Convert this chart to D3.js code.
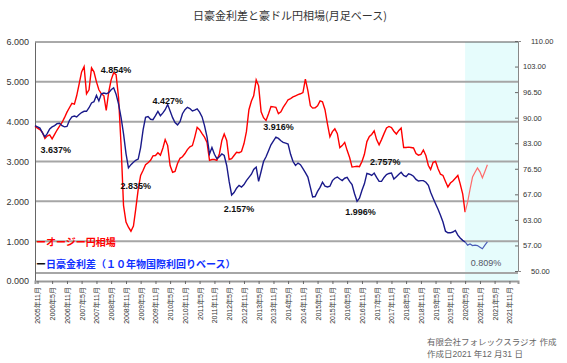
<!DOCTYPE html>
<html>
<head>
<meta charset="utf-8">
<script src="https://cdn.jsdelivr.net/npm/d3@7"></script>
<style>
  body { margin: 0; background: #fff; }
  svg { display: block; }
  text { font-family: "Liberation Sans", Arial, sans-serif; }
  .jp { font-family: "Noto Sans CJK JP", sans-serif; }
  .mix { font-family: "Liberation Sans", "Noto Sans CJK JP", sans-serif; }
</style>
</head>
<body>
<svg id="chart"></svg>
<script>
const width = 567;
const height = 363;

// monthly from 2005/10 to 2021/2
const months = d3.timeMonth.range(new Date(2005, 9, 1), new Date(2021, 2, 2));

// 日豪金利差 (%)
const spread = [
  3.90, 3.87, 3.84, 3.72, 3.62, 3.70, 3.82, 3.87, 3.90, 3.95, 3.96, 3.90, 3.87, 3.88, 4.03, 4.12,
  4.14, 4.12, 4.18, 4.23, 4.26, 4.26, 4.35, 4.47, 4.50, 4.66, 4.52, 4.70, 4.72, 4.70, 4.73, 4.80,
  4.85, 4.69, 4.44, 4.10, 3.70, 3.20, 2.84, 2.92, 2.98, 3.03, 3.06, 3.35, 3.80, 4.11, 4.13, 4.06,
  4.05, 4.15, 4.26, 4.15, 4.22, 4.30, 4.43, 4.27, 4.10, 3.98, 3.92, 4.00, 4.20, 4.30, 4.36, 4.33,
  4.27, 4.29, 4.32, 4.24, 4.12, 3.90, 3.62, 3.19, 3.35, 3.18, 3.07, 3.12, 3.19, 3.15, 2.90, 2.50,
  2.16, 2.22, 2.33, 2.40, 2.36, 2.42, 2.52, 2.60, 2.68, 2.80, 2.86, 2.50, 2.75, 3.00, 3.12, 3.27,
  3.42, 3.52, 3.61, 3.58, 3.52, 3.48, 3.46, 3.44, 3.18, 3.00, 2.90, 2.96, 2.92, 2.82, 2.72, 2.61,
  2.35, 2.11, 2.12, 2.25, 2.35, 2.48, 2.38, 2.36, 2.38, 2.52, 2.58, 2.61, 2.56, 2.52, 2.58, 2.60,
  2.50, 2.42, 2.19, 2.00, 2.08, 2.28, 2.44, 2.70, 2.68, 2.65, 2.71, 2.60, 2.50, 2.50, 2.60, 2.67,
  2.70, 2.71, 2.56, 2.62, 2.68, 2.73, 2.65, 2.62, 2.69, 2.67, 2.63, 2.55, 2.51, 2.52, 2.52, 2.48,
  2.40, 2.23, 2.08, 1.94, 1.80, 1.65, 1.48, 1.25, 1.21, 1.21, 1.23, 1.27, 1.15, 1.08, 1.02, 0.98,
  0.90, 0.93, 0.89, 0.90, 0.89, 0.85, 0.81, 0.90, 0.98
];

// 豪ドル円 (円)
const audjpy = [
  88.8, 88.4, 88.0, 87.3, 85.8, 86.4, 86.7, 85.7, 86.8, 87.9, 88.9, 89.8, 91.0, 92.4, 93.5, 94.6,
  94.4, 96.5, 99.5, 102.5, 103.8, 97.0, 98.0, 103.5, 102.5, 100.0, 98.0, 97.0, 96.5, 92.8, 97.5, 100.5,
  102.3, 101.8, 96.0, 84.0, 69.0, 64.8, 63.5, 62.5, 63.8, 68.0, 73.0, 76.5, 77.8, 79.2, 79.7, 80.3,
  81.4, 81.5, 82.2, 81.6, 83.4, 85.5, 84.0, 79.0, 77.3, 77.5, 79.5, 80.8, 81.2, 82.0, 83.0, 83.7,
  84.0, 86.0, 88.6, 88.0, 87.0, 86.1, 84.8, 80.3, 80.5, 80.5, 80.3, 81.9, 85.3, 86.9, 85.3, 80.5,
  80.7, 81.5, 82.3, 82.2, 82.5, 84.5, 87.5, 93.0, 95.2, 96.5, 100.5, 99.0, 92.5, 91.0, 90.3, 92.0,
  93.8, 93.7, 93.6, 92.0, 92.5, 93.6, 94.5, 95.5, 95.8, 96.2, 96.5, 96.8, 97.0, 97.3, 100.7, 97.8,
  94.0, 93.4, 93.5, 94.0, 95.2, 95.0, 93.0, 89.4, 86.2, 87.5, 88.2, 87.0, 83.5, 84.0, 84.8, 82.8,
  81.0, 78.6, 78.7, 78.8, 78.7, 80.0, 81.8, 85.0, 86.3, 86.8, 87.7, 85.5, 84.2, 85.5, 87.0, 88.4,
  88.8, 88.5, 87.6, 86.9, 87.8, 88.4, 83.5, 83.5, 83.6, 83.5, 83.4, 82.0, 81.6, 81.8, 82.9, 81.5,
  79.0, 78.0, 79.8, 80.0, 78.2, 76.8, 76.5, 75.0, 73.6, 74.6, 75.1, 75.8, 76.5, 74.4, 71.9, 67.3,
  69.8, 73.0, 76.1, 77.3, 78.4, 77.4, 75.9, 77.5, 79.2
];

const leftTicks = [0, 1, 2, 3, 4, 5, 6];
const gridValues = [0.2, 1, 2, 3, 4, 5];
const rightLabels = ["110.00", "103.00", "96.50", "90.00", "83.00", "76.50", "67.00", "63.00", "57.00", "50.00"];
const xTicks = d3.timeMonth.range(new Date(2005, 10, 1), new Date(2021, 10, 2), 6);
const shadeStart = new Date(2020, 4, 1);

const notes = [
  { text: "3.637%", date: new Date(2006, 5, 15), v: 3.22 },
  { text: "4.854%", date: new Date(2008, 6, 1), v: 5.22 },
  { text: "4.427%", date: new Date(2010, 3, 1), v: 4.45 },
  { text: "2.835%", date: new Date(2009, 2, 1), v: 2.30 },
  { text: "2.157%", date: new Date(2012, 8, 1), v: 1.72 },
  { text: "3.916%", date: new Date(2014, 0, 1), v: 3.78 },
  { text: "1.996%", date: new Date(2016, 9, 15), v: 1.65 },
  { text: "2.757%", date: new Date(2017, 7, 15), v: 2.92 },
  { text: "0.809%", date: new Date(2021, 0, 15), v: 0.37, light: true }
];

const plot = { left: 35, right: 518, top: 42, bottom: 281 };

const svg = d3.select("#chart")
  .attr("width", width)
  .attr("height", height);

svg.append("rect").attr("width", width).attr("height", height).attr("fill", "#fff");

const x = d3.scaleTime()
  .domain([new Date(2005, 9, 1), new Date(2022, 1, 15)])
  .range([plot.left, plot.right]);
const yL = d3.scaleLinear().domain([0, 6]).range([plot.bottom, plot.top]);
const yR = d3.scaleLinear().domain([50, 110]).range([plot.bottom, plot.top]);
const yLabel = d3.scalePoint().domain(rightLabels).range([plot.top - 1, plot.bottom - 10]);

// shaded area
svg.append("rect")
  .attr("x", x(shadeStart))
  .attr("y", plot.top)
  .attr("width", plot.right - x(shadeStart))
  .attr("height", plot.bottom - plot.top)
  .attr("fill", "#e6fcfc");

// grid
svg.append("g")
  .selectAll("line")
  .data(gridValues)
  .join("line")
    .attr("x1", plot.left).attr("x2", plot.right)
    .attr("y1", d => yL(d)).attr("y2", d => yL(d))
    .attr("stroke", "#a6a6a6")
    .attr("stroke-width", 2);

svg.append("line")
  .attr("x1", plot.left).attr("x2", plot.right)
  .attr("y1", plot.top).attr("y2", plot.top)
  .attr("stroke", "#555").attr("stroke-width", 1);

// left axis
const gl = svg.append("g")
  .attr("transform", `translate(${plot.left},0)`)
  .call(d3.axisLeft(yL).tickValues(leftTicks).tickFormat(d3.format(".3f")).tickSize(0).tickPadding(6));
gl.select(".domain").attr("stroke", "#666");
gl.selectAll("text").attr("font-size", 9).attr("fill", "#333");

// right axis
const gr = svg.append("g")
  .attr("transform", `translate(${plot.right},0)`)
  .call(d3.axisRight(yLabel).tickSize(3).tickPadding(2));
gr.select(".domain").attr("stroke", "#888");
gr.selectAll("line").attr("stroke", "#666").attr("x2", -3);
gr.selectAll("text")
  .attr("font-size", 7.5)
  .attr("fill", "#333")
  .attr("font-family", "'Liberation Sans Narrow', 'Liberation Sans', sans-serif")
  .attr("dx", (d, i) => (i === 0 || i === rightLabels.length - 1) ? 8 : 0);

// bottom axis
const gb = svg.append("g")
  .attr("transform", `translate(0,${plot.bottom})`)
  .call(d3.axisBottom(x).tickValues(xTicks).tickSize(3).tickPadding(4)
    .tickFormat(d => `${d.getFullYear()}年${d.getMonth() + 1}月`));
gb.select(".domain").attr("stroke", "#999").attr("stroke-width", 2);
gb.selectAll(".tick line").attr("stroke", "#666");
gb.selectAll("text")
  .attr("class", "mix")
  .attr("font-size", 7)
  .attr("fill", "#333")
  .attr("transform", "rotate(-90)")
  .attr("text-anchor", "end")
  .attr("x", -6)
  .attr("y", 0)
  .attr("dy", "0.35em");

// lines
const series = months.map((d, i) => ({ date: d, s: spread[i], r: audjpy[i] }));
const past = series.filter(d => d.date <= shadeStart);
const recent = series.filter(d => d.date >= shadeStart);

const lineS = d3.line().x(d => x(d.date)).y(d => yL(d.s));
const lineR = d3.line().x(d => x(d.date)).y(d => yR(d.r));

svg.append("path").datum(past).attr("d", lineR)
  .attr("fill", "none").attr("stroke", "#ff0000").attr("stroke-width", 1.4);
svg.append("path").datum(recent).attr("d", lineR)
  .attr("fill", "none").attr("stroke", "#ff6b6b").attr("stroke-width", 1.2);
svg.append("path").datum(past).attr("d", lineS)
  .attr("fill", "none").attr("stroke", "#1a1a8a").attr("stroke-width", 1.4);
svg.append("path").datum(recent).attr("d", lineS)
  .attr("fill", "none").attr("stroke", "#4a5cb8").attr("stroke-width", 1.2);

// annotations
svg.append("g")
  .selectAll("text")
  .data(notes)
  .join("text")
    .attr("x", d => x(d.date))
    .attr("y", d => yL(d.v))
    .attr("text-anchor", "middle")
    .attr("font-size", 9)
    .attr("font-weight", d => d.light ? "normal" : "bold")
    .attr("fill", d => d.light ? "#556" : "#111")
    .text(d => d.text);

// legend
svg.append("text")
  .attr("class", "jp")
  .attr("x", plot.left + 1).attr("y", 246)
  .attr("font-size", 10).attr("font-weight", "bold").attr("fill", "#ff0000")
  .text("ーオージー円相場");

const lg = svg.append("text")
  .attr("class", "jp")
  .attr("x", plot.left + 1).attr("y", 268)
  .attr("font-size", 10).attr("font-weight", "bold");
lg.append("tspan").attr("fill", "#111").text("ー");
lg.append("tspan").attr("fill", "#1030ff").text("日豪金利差（１０年物国際利回りベース）");

// title
svg.append("text")
  .attr("class", "jp")
  .attr("x", 290).attr("y", 20)
  .attr("text-anchor", "middle")
  .attr("font-size", 11).attr("fill", "#333")
  .text("日豪金利差と豪ドル円相場(月足ベース)");

// footer
svg.append("text")
  .attr("class", "mix")
  .attr("x", 427).attr("y", 345)
  .attr("font-size", 8.5).attr("fill", "#666")
  .text("有限会社フォレックスラジオ 作成");
svg.append("text")
  .attr("class", "mix")
  .attr("x", 427).attr("y", 357)
  .attr("font-size", 8.5).attr("fill", "#666")
  .text("作成日2021 年12 月31 日");
</script>
</body>
</html>
